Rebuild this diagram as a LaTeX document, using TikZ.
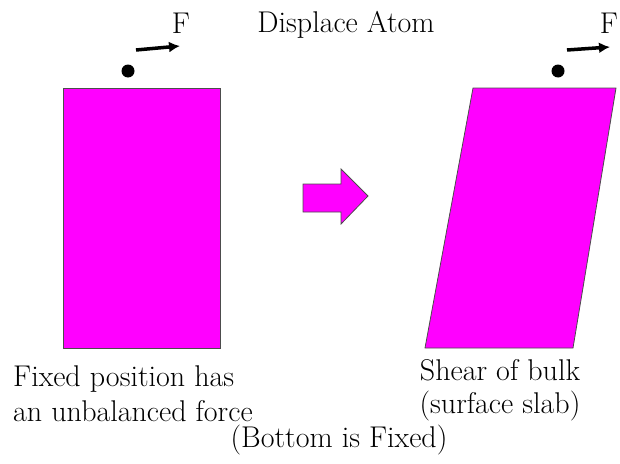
\documentclass[tikz,border=0pt]{standalone}
\usepackage{fontspec}
\usetikzlibrary{arrows.meta}
\definecolor{mag}{RGB}{255,0,255}
\begin{document}
\begin{tikzpicture}[x=1pt,y=-1pt,
  slab/.style={fill=mag,draw=black!70,line width=0.8pt},
  atom/.style={circle,fill=black,inner sep=0pt,minimum size=13pt},
  force/.style={-{Latex[length=11pt,width=11pt]},line width=3.5pt},
  lbl/.style={font=\fontsize{30}{35}\selectfont,inner sep=0pt,anchor=base},
  lbll/.style={lbl,anchor=base west}]
\useasboundingbox (0,0) rectangle (620,463);
% left slab
\draw[slab] (63,88) rectangle (220,348);
\node[atom] (a1) at (128,71) {};
\coordinate (f1s) at (136,50);
\coordinate (f1e) at (180,46);
\draw[force] (f1s) -- (f1e);
\node[lbl] (F1) at (181,33) {F};
% right slab
\draw[slab] (473,88) -- (616,88) -- (573,348) -- (425,348) -- cycle;
\node[atom] (a2) at (558,71) {};
\coordinate (f2s) at (567,50);
\coordinate (f2e) at (610,47);
\draw[force] (f2s) -- (f2e);
\node[lbl] (F2) at (609,33) {F};
% block arrow
\draw[slab] (303,184) -- (341,184) -- (341,169) -- (368,196) -- (341,224) -- (341,212) -- (303,212) -- cycle;
% texts
\node[lbl] (title) at (346,32) {Displace Atom};
\node[lbll] (t1) at (13,386) {Fixed position has};
\node[lbll] (t2) at (13,421) {an unbalanced force};
\node[lbl] (t3) at (500,380) {Shear of bulk};
\node[lbl] (t4) at (500,413) {(surface slab)};
\node[lbl] (t5) at (339,447) {(Bottom is Fixed)};
\end{tikzpicture}
\end{document}
